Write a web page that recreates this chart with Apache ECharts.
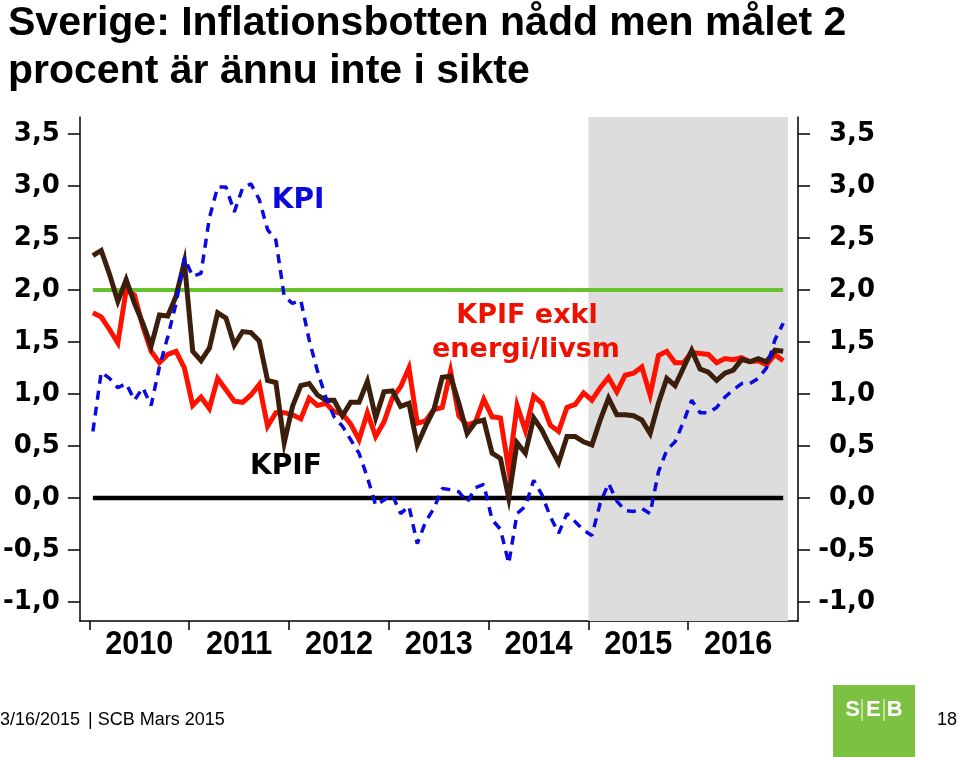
<!DOCTYPE html>
<html>
<head>
<meta charset="utf-8">
<script src="https://cdn.jsdelivr.net/npm/echarts@6.0.0/dist/echarts.min.js"></script>
<style>
html,body{margin:0;padding:0;background:#fff;}
#chart{width:959px;height:757px;}
</style>
</head>
<body>
<div id="chart"></div>
<script>
// Monthly data Jan 2010 .. Dec 2016 (84 months)
const years = ['2010','2011','2012','2013','2014','2015','2016'];
const yTickValues = [-1.0,-0.5,0.0,0.5,1.0,1.5,2.0,2.5,3.0,3.5];
const targetLevel = 2.0;
const zeroLevel = 0.0;
const forecastStartMonth = 60; // Jan 2015
const forecastEndMonth = 84;

const kpif = [
  2.33,2.38,2.15,1.89,2.10,1.87,1.68,1.46,1.76,1.75,1.94,2.27,
  1.41,1.32,1.44,1.78,1.73,1.47,1.60,1.59,1.51,1.13,1.11,0.53,
  0.88,1.08,1.10,0.99,0.94,0.94,0.79,0.92,0.92,1.12,0.77,1.02,
  1.03,0.88,0.91,0.51,0.69,0.85,1.16,1.17,0.91,0.62,0.73,0.75,
  0.43,0.38,0.00,0.53,0.43,0.77,0.65,0.49,0.34,0.59,0.59,0.54,
  0.51,0.75,0.96,0.80,0.80,0.79,0.75,0.62,0.91,1.15,1.08,1.25,
  1.42,1.24,1.21,1.13,1.20,1.23,1.33,1.31,1.34,1.31,1.42,1.41
];
const kpifExkl = [
  1.78,1.74,1.62,1.49,2.00,1.95,1.65,1.41,1.30,1.38,1.41,1.25,
  0.89,0.97,0.86,1.15,1.04,0.93,0.92,0.99,1.09,0.69,0.82,0.82,
  0.80,0.76,0.96,0.89,0.91,0.83,0.81,0.71,0.56,0.82,0.59,0.73,
  0.96,1.07,1.25,0.72,0.74,0.85,0.87,1.22,0.79,0.70,0.73,0.95,
  0.78,0.77,0.27,0.89,0.65,0.98,0.91,0.70,0.64,0.87,0.90,1.01,
  0.94,1.06,1.16,1.02,1.18,1.20,1.26,0.99,1.37,1.41,1.30,1.30,
  1.40,1.39,1.38,1.30,1.34,1.33,1.35,1.31,1.32,1.28,1.38,1.32
];
const kpi = [
  0.64,1.21,1.15,1.06,1.10,0.94,1.06,0.89,1.26,1.55,1.87,2.31,
  2.13,2.16,2.69,2.99,2.99,2.75,2.98,3.02,2.87,2.58,2.48,1.94,
  1.87,1.90,1.52,1.22,0.97,0.78,0.69,0.56,0.43,0.20,-0.07,-0.02,
  0.03,-0.15,-0.08,-0.44,-0.23,-0.10,0.09,0.08,0.06,-0.04,0.10,0.13,
  -0.21,-0.30,-0.63,-0.15,-0.08,0.17,0.03,-0.18,-0.34,-0.15,-0.23,-0.31,
  -0.36,-0.05,0.14,-0.03,-0.12,-0.13,-0.10,-0.15,0.25,0.46,0.54,0.73,
  0.94,0.82,0.82,0.87,0.97,1.04,1.10,1.10,1.15,1.25,1.52,1.68
];

const OFF = 0.42; // point position within each month
const toXY = arr => arr.map((v,i) => [i + OFF, v]);
const constLine = (lvl) => kpif.map((_,i) => [i + OFF, lvl]);

const axisFont = {fontFamily:'DejaVu Sans', fontWeight:'bold', fontSize:26, color:'#000'};
const fmt = v => v.toFixed(1).replace('.', ',');
const yearCenters = years.map((y,k) => 6 + 12*k);

const chart = echarts.init(document.getElementById('chart'), null, {renderer:'canvas'});
chart.setOption({
  animation:false,
  backgroundColor:'#fff',
  grid:{left:78, right:161, top:117, bottom:136, containLabel:false},
  xAxis:{
    type:'value', min:-1.15, max:85.2,
    axisLine:{show:true, onZero:false, lineStyle:{color:'#000', width:1.5}},
    axisTick:{show:true, length:9, lineStyle:{color:'#000', width:1.5},
      customValues:[0,12,24,36,48,60,72]},
    axisLabel:{show:false},
    splitLine:{show:false}
  },
  yAxis:[{
    type:'value', min:-1.183, max:3.663, position:'left',
    axisLine:{show:true, onZero:false, lineStyle:{color:'#000', width:1.5}},
    axisTick:{show:true, length:12, lineStyle:{color:'#000', width:1.5}, customValues:yTickValues},
    axisLabel:Object.assign({customValues:yTickValues, formatter:fmt, margin:20}, axisFont),
    splitLine:{show:false}
  },{
    type:'value', min:-1.183, max:3.663, position:'right',
    axisLine:{show:true, onZero:false, lineStyle:{color:'#000', width:1.5}},
    axisTick:{show:true, length:12, lineStyle:{color:'#000', width:1.5}, customValues:yTickValues},
    axisLabel:Object.assign({customValues:yTickValues, formatter:fmt, margin:77, align:'right'}, axisFont),
    splitLine:{show:false}
  }],
  series:[
    {type:'line', data:[], z:1, silent:true,
      markArea:{silent:true, itemStyle:{color:'#dddddd'},
        data:[[{xAxis:forecastStartMonth},{xAxis:forecastEndMonth}]]}},
    {name:'Mål', type:'line', data:constLine(targetLevel), symbol:'none', z:2,
      lineStyle:{color:'#66c22e', width:4}},
    {name:'Noll', type:'line', data:constLine(zeroLevel), symbol:'none', z:2,
      lineStyle:{color:'#000', width:4.5}},
    {name:'KPIF exkl energi/livsm', type:'line', data:toXY(kpifExkl), symbol:'none', z:3,
      lineStyle:{color:'#ff1100', width:5, join:'miter'}},
    {name:'KPIF', type:'line', data:toXY(kpif), symbol:'none', z:4,
      lineStyle:{color:'#3b1e0c', width:5, join:'miter'}},
    {name:'KPI', type:'line', data:toXY(kpi), symbol:'none', z:5,
      lineStyle:{color:'#0a0ae0', width:3.5, type:[9,7]}}
  ]
});

// year labels, positioned through the x axis scale, horizontally condensed
const axisY = chart.convertToPixel({yAxisIndex:0}, -1.183);
const yearGraphics = years.map((y,k) => ({
  type:'text', z:100, x:chart.convertToPixel({xAxisIndex:0}, yearCenters[k]), y:axisY + 24, scaleX:0.9,
  style:{text:y, align:'center', verticalAlign:'middle',
    fontFamily:'Liberation Sans', fontWeight:'bold', fontSize:34, fill:'#000'}
}));

chart.setOption({
  graphic:[
    {type:'text', z:100, left:8, top:0, style:{text:'Sverige: Inflationsbotten nådd men målet 2\nprocent är ännu inte i sikte',
      fontFamily:'Liberation Sans', fontWeight:'bold', fontSize:41, lineHeight:48, fill:'#000'}},
    {type:'text', z:100, x:298, y:201, style:{text:'KPI', align:'center', verticalAlign:'middle',
      fontFamily:'DejaVu Sans', fontWeight:'bold', fontSize:28, fill:'#0a0ae0'}},
    {type:'text', z:100, x:286, y:467, style:{text:'KPIF', align:'center', verticalAlign:'middle',
      fontFamily:'DejaVu Sans', fontWeight:'bold', fontSize:28, fill:'#000'}},
    {type:'text', z:100, x:527, y:316, style:{text:'KPIF exkl', align:'center', verticalAlign:'middle',
      fontFamily:'DejaVu Sans', fontWeight:'bold', fontSize:27, fill:'#ee1100'}},
    {type:'text', z:100, x:526, y:350, style:{text:'energi/livsm', align:'center', verticalAlign:'middle',
      fontFamily:'DejaVu Sans', fontWeight:'bold', fontSize:27, fill:'#ee1100'}},
    {type:'text', z:100, x:0, y:720, style:{text:'3/16/2015', verticalAlign:'middle',
      fontFamily:'Liberation Sans', fontSize:18, fill:'#000'}},
    {type:'text', z:100, x:88, y:720, style:{text:'| SCB Mars 2015', verticalAlign:'middle',
      fontFamily:'Liberation Sans', fontSize:18, fill:'#000'}},
    {type:'text', z:100, x:957, y:720, style:{text:'18', align:'right', verticalAlign:'middle',
      fontFamily:'Liberation Sans', fontSize:18, fill:'#000'}},
    {type:'rect', z:100, shape:{x:833, y:685, width:82, height:72}, style:{fill:'#7dc142'}},
    {type:'text', z:101, x:874, y:710, style:{text:'S E B', align:'center', verticalAlign:'middle',
      fontFamily:'Liberation Sans', fontWeight:'bold', fontSize:22, fill:'#fff'}},
    {type:'line', z:101, shape:{x1:862, y1:699, x2:862, y2:721}, style:{stroke:'#fff', lineWidth:1}},
    {type:'line', z:101, shape:{x1:884, y1:699, x2:884, y2:721}, style:{stroke:'#fff', lineWidth:1}}
  ].concat(yearGraphics)
});
</script>
</body>
</html>
